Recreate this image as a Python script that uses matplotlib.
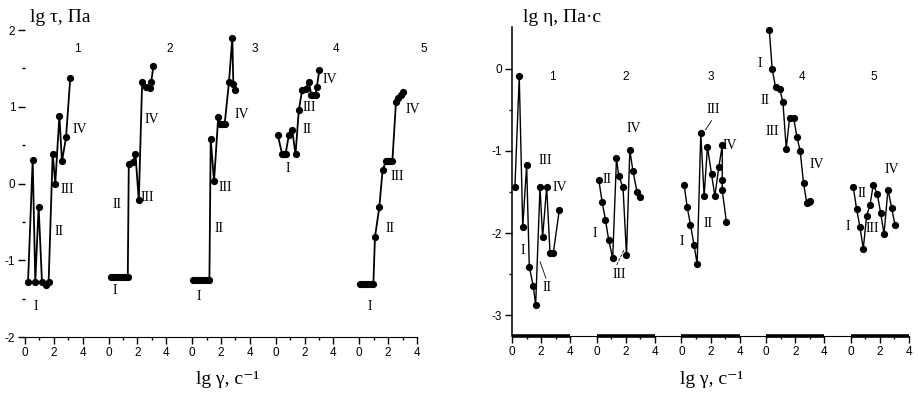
import matplotlib.pyplot as plt

# curve data (lg gamma, value) for 5 samples
tau1_x = [0.21, 0.53, 0.71, 0.94, 1.17, 1.45, 1.63, 1.91, 2.09, 2.37, 2.55, 2.83, 3.12]
tau1_y = [-1.28, 0.31, -1.28, -0.30, -1.28, -1.32, -1.28, 0.39, 0.0, 0.88, 0.29, 0.60, 1.37]
tau2_x = [0.2, 0.4, 0.6, 0.8, 1.0, 1.2, 1.33, 1.4, 1.68, 1.86, 2.09, 2.32, 2.6, 2.83, 2.94, 3.1]
tau2_y = [-1.22, -1.22, -1.22, -1.22, -1.22, -1.22, -1.22, 0.26, 0.28, 0.38, -0.22, 1.32, 1.26, 1.25, 1.32, 1.53]
tau3_x = [0.1, 0.3, 0.5, 0.7, 0.9, 1.1, 1.2, 1.29, 1.52, 1.81, 1.95, 2.1, 2.25, 2.55, 2.78, 2.85, 3.0]
tau3_y = [-1.26, -1.26, -1.26, -1.26, -1.26, -1.26, -1.26, 0.58, 0.03, 0.87, 0.77, 0.77, 0.77, 1.32, 1.9, 1.3, 1.22]
tau4_x = [0.16, 0.46, 0.58, 0.69, 0.92, 1.15, 1.38, 1.61, 1.84, 2.07, 2.3, 2.48, 2.62, 2.76, 2.85, 3.03]
tau4_y = [0.63, 0.38, 0.38, 0.38, 0.63, 0.70, 0.38, 0.96, 1.22, 1.23, 1.32, 1.15, 1.15, 1.15, 1.26, 1.48]
tau5_x = [0.07, 0.25, 0.45, 0.65, 0.85, 0.99, 1.1, 1.4, 1.63, 1.86, 2.0, 2.15, 2.3, 2.55, 2.71, 2.9, 3.05]
tau5_y = [-1.31, -1.31, -1.31, -1.31, -1.31, -1.31, -0.70, -0.31, 0.18, 0.29, 0.29, 0.29, 0.29, 1.06, 1.11, 1.15, 1.19]

eta1_x = [0.2, 0.5, 0.74, 1.01, 1.19, 1.47, 1.63, 1.93, 2.11, 2.39, 2.62, 2.85, 3.26]
eta1_y = [-1.44, -0.09, -1.93, -1.17, -2.41, -2.65, -2.88, -1.44, -2.05, -1.44, -2.24, -2.24, -1.72]
eta2_x = [0.14, 0.37, 0.6, 0.83, 1.1, 1.36, 1.52, 1.81, 2.05, 2.28, 2.5, 2.78, 3.01]
eta2_y = [-1.35, -1.62, -1.84, -2.09, -2.31, -1.09, -1.31, -1.44, -2.27, -0.99, -1.25, -1.50, -1.56]
eta3_x = [0.18, 0.39, 0.62, 0.87, 1.08, 1.33, 1.56, 1.79, 2.07, 2.3, 2.57, 2.81, 2.81, 2.81, 3.1]
eta3_y = [-1.41, -1.68, -1.90, -2.15, -2.38, -0.78, -1.55, -0.95, -1.28, -1.55, -1.20, -0.93, -1.35, -1.48, -1.87]
eta4_x = [0.21, 0.41, 0.64, 0.92, 1.15, 1.38, 1.61, 1.89, 2.12, 2.34, 2.57, 2.8, 2.92, 3.03]
eta4_y = [0.48, 0.0, -0.22, -0.24, -0.40, -0.97, -0.60, -0.60, -0.83, -1.0, -1.39, -1.64, -1.62, -1.61]
eta5_x = [0.16, 0.39, 0.62, 0.85, 1.08, 1.31, 1.54, 1.81, 2.05, 2.28, 2.55, 2.8, 3.03]
eta5_y = [-1.44, -1.71, -1.93, -2.19, -1.79, -1.66, -1.41, -1.52, -1.76, -2.01, -1.47, -1.69, -1.90]

tau_curves = [(tau1_x, tau1_y), (tau2_x, tau2_y), (tau3_x, tau3_y), (tau4_x, tau4_y), (tau5_x, tau5_y)]
eta_curves = [(eta1_x, eta1_y), (eta2_x, eta2_y), (eta3_x, eta3_y), (eta4_x, eta4_y), (eta5_x, eta5_y)]

curve_names = ["1", "2", "3", "4", "5"]
stage_names = ["I", "II", "III", "IV"]

# where the stage labels sit (local lg gamma, value) for each curve
tau_stage_pos = [
    [(0.76, -1.6), (2.34, -0.62), (2.9, -0.08), (3.8, 0.7)],
    [(0.41, -1.4), (0.62, -0.27), (2.7, -0.18), (2.97, 0.83)],
    [(0.48, -1.47), (1.86, -0.58), (2.28, -0.05), (3.45, 0.9)],
    [(0.83, 0.2), (2.2, 0.7), (2.34, 0.99), (3.72, 1.35)],
    [(0.76, -1.6), (2.14, -0.58), (2.62, 0.09), (3.72, 0.97)],
]
eta_stage_pos = [
    [(0.74, -2.21), (2.39, -2.66), (2.28, -1.11), (3.31, -1.45)],
    [(-0.14, -2.0), (0.69, -1.35), (1.52, -2.51), (2.55, -0.73)],
    [(0.05, -2.1), (1.81, -1.88), (2.16, -0.5), (3.31, -0.93)],
    [(-0.41, 0.07), (-0.07, -0.38), (0.39, -0.76), (3.5, -1.17)],
    [(-0.21, -1.92), (0.74, -1.52), (1.5, -1.95), (2.81, -1.23)],
]
tau_name_pos = [(3.6, 1.75), (4.2, 1.75), (4.3, 1.75), (4.2, 1.75), (4.5, 1.75)]
eta_name_pos = [(2.76, -0.1), (1.98, -0.1), (2.05, -0.1), (2.46, -0.1), (1.54, -0.1)]

serif = ["Liberation Serif", "DejaVu Serif"]
sans = ["Liberation Sans", "DejaVu Sans"]

fig = plt.figure(figsize=(9.18, 3.94), dpi=100)


def setup_axis(ax, step, ylim):
    ax.set_xlim(0, 4 + 4 * step)
    ax.set_ylim(*ylim)
    ax.spines["top"].set_visible(False)
    ax.spines["right"].set_visible(False)
    major = [k * step + v for k in range(5) for v in (0, 2, 4)]
    minor = [k * step + v for k in range(5) for v in (1, 3)]
    ax.set_xticks(major)
    ax.set_xticklabels(["0", "2", "4"] * 5)
    ax.set_xticks(minor, minor=True)
    ax.tick_params(which="major", length=5, width=1.0, labelsize=8.5, pad=2)
    ax.tick_params(which="minor", length=2.5, width=1.0)
    for t in ax.get_xticklabels() + ax.get_yticklabels():
        t.set_family(sans)


def draw_curves(ax, curves, step, stage_pos, name_pos, lw):
    for k, (xs, ys) in enumerate(curves):
        xx = [x + k * step for x in xs]
        ax.plot(xx, ys, color="black", lw=lw, marker="o", ms=4.2, mfc="black", mec="black")
        for name, (sx, sy) in zip(stage_names, stage_pos[k]):
            ax.text(sx + k * step, sy, name, family=serif, fontsize=10, ha="center", va="center")
        nx, ny = name_pos[k]
        ax.text(nx + k * step, ny, curve_names[k], family=sans, fontsize=8.5, ha="center", va="center")


# left panel: shear stress
tau_step = 5.76
ax1 = fig.add_axes([25 / 918, 57 / 394, 392 / 918, 307 / 394])
setup_axis(ax1, tau_step, (-2, 2))
ax1.spines["left"].set_visible(False)
ax1.set_yticks([-2, -1, 0, 1, 2])
ax1.set_yticks([-1.5, -0.5, 0.5, 1.5], minor=True)
ax1.set_yticklabels(["-2", "-1", "0", "1", "2"])
for t in ax1.get_yticklabels():
    t.set_family(sans)
draw_curves(ax1, tau_curves, tau_step, tau_stage_pos, tau_name_pos, 1.3)

# right panel: viscosity
eta_step = 5.84
ax2 = fig.add_axes([512 / 918, 58 / 394, 397 / 918, 309 / 394])
setup_axis(ax2, eta_step, (-3.256, 0.512))
ax2.set_yticks([-3, -2, -1, 0])
ax2.set_yticks([-2.5, -1.5, -0.5], minor=True)
ax2.set_yticklabels(["-3", "-2", "-1", "0"])
for t in ax2.get_yticklabels():
    t.set_family(sans)
ax2.spines["bottom"].set_linewidth(0.8)
ax2.spines["left"].set_linewidth(1.1)
for k in range(5):
    ax2.plot([k * eta_step, k * eta_step + 4], [-3.256, -3.256], color="black", lw=2.6,
             solid_capstyle="butt", clip_on=False)
draw_curves(ax2, eta_curves, eta_step, eta_stage_pos, eta_name_pos, 1.0)

# small leader lines from labels to the curves
ax2.plot([1.93, 2.34], [-2.35, -2.55], color="black", lw=0.6)
ax2.plot([eta_step + 1.86, eta_step + 1.38], [-2.21, -2.39], color="black", lw=0.6, ls="--")
ax2.plot([2 * eta_step + 1.66, 2 * eta_step + 2.07], [-0.74, -0.63], color="black", lw=0.6)

fig.text(30 / 918, 1 - 17 / 394, "lg τ, Па", family=serif, fontsize=14, va="center")
fig.text(523 / 918, 1 - 18 / 394, "lg η, Па·с", family=serif, fontsize=14, va="center")
fig.text(228 / 918, 1 - 380 / 394, "lg γ, с⁻¹", family=serif, fontsize=14, ha="center", va="center")
fig.text(712 / 918, 1 - 380 / 394, "lg γ, с⁻¹", family=serif, fontsize=14, ha="center", va="center")

fig.savefig("out.png", dpi=100)
